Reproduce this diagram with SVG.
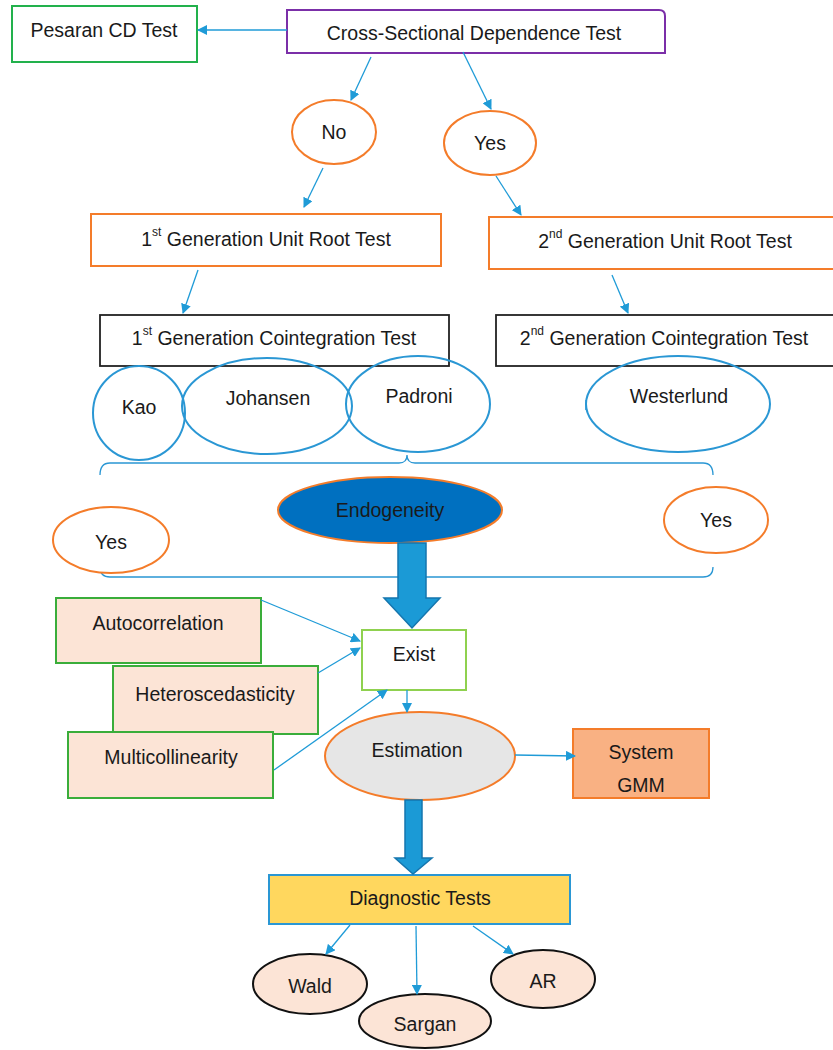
<svg xmlns="http://www.w3.org/2000/svg" width="833" height="1050" viewBox="0 0 833 1050">
<defs>
<style>
text{font-family:"Liberation Sans",Arial,sans-serif;font-size:19.5px;fill:#1a1a1a;text-anchor:middle;dominant-baseline:central}
.sup{font-size:12px}
.conn{stroke:#1f9bd7;stroke-width:1.3;fill:none;marker-end:url(#ah)}
.blue{fill:none;stroke:#2a97d4;stroke-width:2}
.orE{fill:#fff;stroke:#f47c2a;stroke-width:2}
.peach{fill:#fce4d6;stroke:#3aad3a;stroke-width:2}
.big{fill:#1b9ad6;stroke:#1576ae;stroke-width:1.5}
</style>
<marker id="ah" viewBox="0 0 10 10" refX="9" refY="5" markerWidth="10" markerHeight="10" markerUnits="userSpaceOnUse" orient="auto">
<path d="M0,0 L10,5 L0,10 z" fill="#1f9bd7"/>
</marker>
</defs>

<g id="pesaran"><rect x="12" y="6" width="185" height="56" fill="#fff" stroke="#22b14c" stroke-width="2"/><text x="104" y="30">Pesaran CD Test</text></g>
<g id="csd"><path d="M287,10 H659 Q665,10 665,16 V53 H287 Z" fill="#fff" stroke="#7b2fa8" stroke-width="2"/><text x="474" y="33">Cross-Sectional Dependence Test</text></g>
<g id="no"><ellipse cx="334" cy="132" rx="42" ry="32" class="orE"/><text x="334" y="132">No</text></g>
<g id="yes1"><ellipse cx="490" cy="143" rx="46" ry="32" class="orE"/><text x="490" y="143">Yes</text></g>
<g id="gen1unit"><rect x="91" y="214" width="350" height="52" fill="#fff" stroke="#f47c2a" stroke-width="2"/><text x="266" y="239">1<tspan class="sup" dy="-7">st</tspan><tspan dy="7"> Generation Unit Root Test</tspan></text></g>
<g id="gen2unit"><rect x="489" y="217" width="346" height="52" fill="#fff" stroke="#f47c2a" stroke-width="2"/><text x="665" y="241">2<tspan class="sup" dy="-7">nd</tspan><tspan dy="7"> Generation Unit Root Test</tspan></text></g>
<g id="gen1coint"><rect x="100" y="315" width="349" height="51" fill="#fff" stroke="#222" stroke-width="1.8"/><text x="274" y="338">1<tspan class="sup" dy="-7">st</tspan><tspan dy="7"> Generation Cointegration Test</tspan></text></g>
<g id="gen2coint"><rect x="496" y="315" width="339" height="51" fill="#fff" stroke="#222" stroke-width="1.8"/><text x="664" y="338">2<tspan class="sup" dy="-7">nd</tspan><tspan dy="7"> Generation Cointegration Test</tspan></text></g>
<g id="kao"><ellipse cx="139" cy="413" rx="46" ry="47" class="blue"/><text x="139" y="407">Kao</text></g>
<g id="johansen"><ellipse cx="267" cy="406" rx="85" ry="48" class="blue"/><text x="268" y="398">Johansen</text></g>
<g id="padroni"><ellipse cx="418" cy="404" rx="72" ry="48" class="blue"/><text x="419" y="396">Padroni</text></g>
<g id="westerlund"><ellipse cx="678" cy="404" rx="92" ry="48" class="blue"/><text x="679" y="396">Westerlund</text><path d="M586,400 V410" stroke="#2a97d4" stroke-width="1.5"/></g>
<g id="braces" fill="none" stroke="#2a97d4" stroke-width="1.3">
<path d="M100,475 Q100,463 110,463 H399 Q407,463 407,455 Q407,463 415,463 H703 Q713,463 713,475"/>
<path d="M100,567 Q100,577 110,577 H703 Q713,577 713,567"/>
</g>
<g id="endogeneity"><ellipse cx="390" cy="510" rx="112" ry="33" fill="#0070c0" stroke="#f47c2a" stroke-width="2"/><text x="390" y="510">Endogeneity</text></g>
<g id="yes2"><ellipse cx="111" cy="540" rx="58" ry="33" class="orE"/><text x="111" y="542">Yes</text></g>
<g id="yes3"><ellipse cx="716" cy="520" rx="52" ry="33" class="orE"/><text x="716" y="520">Yes</text></g>
<g id="autocorrelation"><rect x="56" y="598" width="205" height="65" class="peach"/><text x="158" y="623">Autocorrelation</text></g>
<g id="heteroscedasticity"><rect x="113" y="666" width="205" height="68" class="peach"/><text x="215" y="694">Heteroscedasticity</text></g>
<g id="multicollinearity"><rect x="68" y="732" width="205" height="66" class="peach"/><text x="171" y="757">Multicollinearity</text></g>
<g id="exist"><rect x="362" y="630" width="104" height="60" fill="#fff" stroke="#8fd14f" stroke-width="2"/><text x="414" y="654">Exist</text></g>
<g id="estimation"><ellipse cx="420" cy="756" rx="95" ry="44" fill="#e6e6e6" stroke="#f47c2a" stroke-width="2"/><text x="417" y="750">Estimation</text></g>
<g id="systemgmm"><rect x="573" y="729" width="136" height="69" fill="#f9b183" stroke="#f47c2a" stroke-width="2"/><text x="641" y="752">System</text><text x="641" y="785">GMM</text></g>
<g id="diagnostic"><rect x="269" y="875" width="301" height="49" fill="#ffd75e" stroke="#2a97d4" stroke-width="2"/><text x="420" y="898">Diagnostic Tests</text></g>
<g id="wald"><ellipse cx="310" cy="984" rx="57" ry="30" fill="#fce4d6" stroke="#111" stroke-width="2"/><text x="310" y="986">Wald</text></g>
<g id="sargan"><ellipse cx="425" cy="1021" rx="66" ry="27" fill="#fce4d6" stroke="#111" stroke-width="2"/><text x="425" y="1024">Sargan</text></g>
<g id="ar"><ellipse cx="543" cy="979" rx="52" ry="29" fill="#fce4d6" stroke="#111" stroke-width="2"/><text x="543" y="981">AR</text></g>

<g id="connectors">
<path class="conn" d="M287,30 H198"/>
<path class="conn" d="M371,57 L351,100"/>
<path class="conn" d="M463,52 L491,109"/>
<path class="conn" d="M323,168 L304,207"/>
<path class="conn" d="M496,176 L521,215"/>
<path class="conn" d="M198,270 L183,313"/>
<path class="conn" d="M612,275 L628,313"/>
<path class="conn" d="M261,600 L360,641"/>
<path class="conn" d="M318,673 L360,648"/>
<path class="conn" d="M274,770 L387,690"/>
<path class="conn" d="M407,690 V712"/>
<path class="conn" d="M515,755 L575,756"/>
<path class="conn" d="M350,925 L326,954"/>
<path class="conn" d="M416,926 L417,994"/>
<path class="conn" d="M473,926 L513,954"/>
<path class="big" d="M398,543 H426 V598 H440 L412,628 L384,598 H398 Z"/>
<path class="big" d="M405,800 H422 V858 H432 L413,874 L395,858 H405 Z"/>
</g>
</svg>
